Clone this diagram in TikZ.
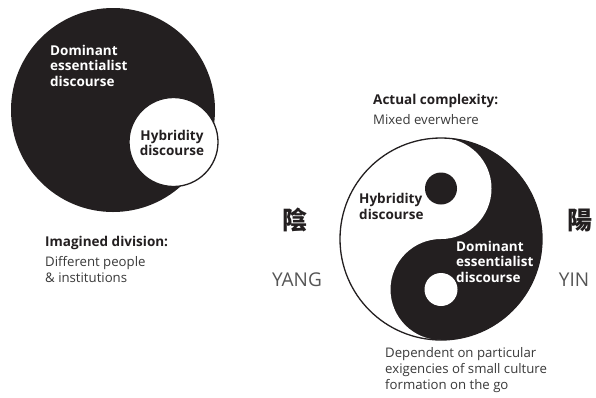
\documentclass[tikz,border=0pt]{standalone}
\usepackage{fontspec}
\setmainfont{Open Sans}
\newfontfamily\cjk{Noto Sans CJK TC}
\definecolor{ink}{HTML}{231F20}
\definecolor{txt}{HTML}{3A3A3A}
\definecolor{lite}{HTML}{555555}
\begin{document}
\begin{tikzpicture}[x=1pt,y=-1pt,
  boldlbl/.style={font=\fontsize{13.5}{15.5}\selectfont\bfseries, text=ink, align=left, inner sep=0pt, anchor=base west},
  plainlbl/.style={font=\fontsize{13.2}{16}\selectfont, text=txt, align=left, inner sep=0pt, anchor=base west},
  hanzi/.style={font=\cjk\bfseries\fontsize{25}{25}\selectfont, text=ink, inner sep=0pt},
  roman/.style={font=\fontsize{19}{19}\selectfont, text=lite, inner sep=0pt},
  ]
\useasboundingbox (0,0) rectangle (596,397);
\fill[white] (0,0) rectangle (596,397);
% left: imagined division
\fill[ink] (113,110) circle (102);
\filldraw[fill=white, draw=ink, line width=1.3pt] (173.5,142) circle (44.5);
% right: yin-yang
\fill[ink] (441,239) circle (101);
\fill[white] (441,138) arc[start angle=270, end angle=90, radius=101]
  arc[start angle=90, end angle=270, radius=50.5]
  arc[start angle=90, end angle=-90, radius=50.5] -- cycle;
\fill[ink] (441,188.5) circle (16);
\fill[white] (441,289.5) circle (16.5);
\draw[ink, line width=1.3pt] (441,239) circle (101);
% texts (multi-line nodes: base = last line)
\node[boldlbl, text=white] (domA) at (50,86) {Dominant\\essentialist\\discourse};
\node[boldlbl, align=center, anchor=center] (hybA) at (172,143) {Hybridity\\discourse};
\node[boldlbl] (imag) at (45,246) {Imagined division:};
\node[plainlbl] (diff) at (45,282) {Different people\\\& institutions};
\node[hanzi] (yinC) at (295,220) {陰};
\node[roman] (yangT) at (297,280) {YANG};
\node[hanzi] (yangC) at (580,220) {陽};
\node[roman] (yinT) at (574,280) {YIN};
\node[boldlbl] (act) at (373,104) {Actual complexity:};
\node[plainlbl] (mixed) at (373,124) {Mixed everwhere};
\node[boldlbl] (hybB) at (359,219) {Hybridity\\discourse};
\node[boldlbl, text=white] (domB) at (456,282) {Dominant\\essentialist\\discourse};
\node[plainlbl] (dep) at (385,389) {Dependent on particular\\exigencies of small culture\\formation on the go};
\end{tikzpicture}
\end{document}
